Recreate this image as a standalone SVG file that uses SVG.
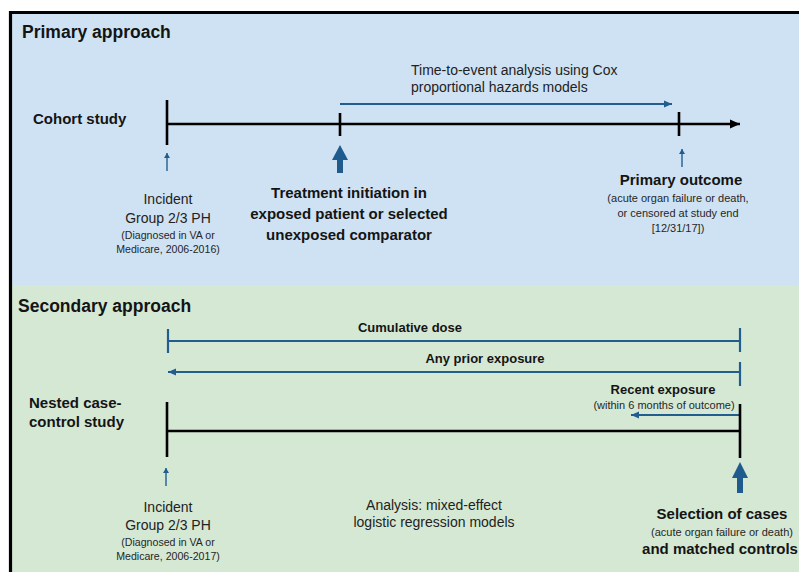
<svg xmlns="http://www.w3.org/2000/svg" width="799" height="572" viewBox="0 0 799 572">
  <style>
    text { font-family: "Liberation Sans", Arial, sans-serif; fill: #141414; }
    .h { font-size: 17.5px; font-weight: bold; }
    .b15 { font-size: 15px; font-weight: bold; }
    .b13 { font-size: 13px; font-weight: bold; }
    .r14 { font-size: 14px; fill: #222; }
    .s11 { font-size: 11px; fill: #262626; }
    .s10 { font-size: 10.6px; fill: #262626; }
    .c { text-anchor: middle; }
    .blk { stroke: #000; stroke-width: 2.6; fill: none; }
    .blu { stroke: #215d8f; stroke-width: 2.2; fill: none; }
    .thin { stroke: #215d8f; stroke-width: 1.4; fill: none; }
    .bigA { fill: #1f5b8d; }
  </style>
  <defs>
    <marker id="bh" markerUnits="userSpaceOnUse" markerWidth="9" markerHeight="8" refX="8" refY="4" orient="auto">
      <path d="M0,0.5 L8,4 L0,7.5 z" fill="#215d8f"/>
    </marker>
    <marker id="kh" markerUnits="userSpaceOnUse" markerWidth="11" markerHeight="10" refX="10" refY="5" orient="auto">
      <path d="M0,0.5 L10,5 L0,9.5 z" fill="#000"/>
    </marker>
    <marker id="sh" markerUnits="userSpaceOnUse" markerWidth="6" markerHeight="6" refX="5" refY="3" orient="auto">
      <path d="M0,0 L5,3 L0,6 z" fill="#215d8f"/>
    </marker>
  </defs>

  <rect x="0" y="0" width="799" height="572" fill="#fff"/>
  <g id="panels">
    <rect x="11" y="13" width="790" height="272" fill="#cfe2f3"/>
    <rect x="11" y="285" width="790" height="290" fill="#d5e8d4"/>
    <path d="M10.5,575 L10.5,12.5 L801,12.5" fill="none" stroke="#000" stroke-width="3.2"/>
  </g>

  <g id="connectors">
    <!-- cohort timeline -->
    <line class="blk" x1="167" y1="124" x2="740" y2="124" marker-end="url(#kh)"/>
    <line class="blk" x1="167" y1="100" x2="167" y2="145"/>
    <line class="blk" x1="340" y1="113" x2="340" y2="136"/>
    <line class="blk" x1="679" y1="112" x2="679" y2="136"/>
    <line class="blu" x1="340" y1="104" x2="672" y2="104" marker-end="url(#bh)"/>
    <line class="thin" x1="167" y1="171" x2="167" y2="153" marker-end="url(#sh)"/>
    <line class="thin" x1="682" y1="167" x2="682" y2="149" marker-end="url(#sh)"/>
    <polygon class="bigA" points="340,145 348,160 343,160 343,173 337,173 337,160 332,160"/>
    <!-- nested case-control -->
    <line class="blu" x1="168" y1="341" x2="740" y2="341"/>
    <line class="blu" x1="168" y1="329" x2="168" y2="353"/>
    <line class="blu" x1="740" y1="328" x2="740" y2="352"/>
    <line class="blu" x1="740" y1="372" x2="168" y2="372" marker-end="url(#bh)"/>
    <line class="blu" x1="740" y1="362" x2="740" y2="386"/>
    <line class="blu" x1="740" y1="415" x2="631" y2="415" marker-end="url(#bh)"/>
    <line class="blk" x1="167" y1="431" x2="740" y2="431"/>
    <line class="blk" x1="167" y1="402" x2="167" y2="457"/>
    <line class="blk" x1="740" y1="404" x2="740" y2="458"/>
    <line class="thin" x1="166" y1="486" x2="166" y2="468" marker-end="url(#sh)"/>
    <polygon class="bigA" points="740,462 748,478 743,478 743,493 737,493 737,478 732,478"/>
  </g>

  <g id="primary-title"><text class="h" x="22" y="38">Primary approach</text></g>
  <g id="cohort-label"><text class="b15" x="33" y="124">Cohort study</text></g>
  <g id="tte-label">
    <text class="r14" x="411" y="75">Time-to-event analysis using Cox</text>
    <text class="r14" x="411" y="92">proportional hazards models</text>
  </g>
  <g id="incident-top">
    <text class="r14 c" x="168" y="204">Incident</text>
    <text class="r14 c" x="168" y="223">Group 2/3 PH</text>
    <text class="s10 c" x="168" y="239">(Diagnosed in VA or</text>
    <text class="s10 c" x="168" y="253">Medicare, 2006-2016)</text>
  </g>
  <g id="treatment">
    <text class="b15 c" x="349" y="198">Treatment initiation in</text>
    <text class="b15 c" x="349" y="219">exposed patient or selected</text>
    <text class="b15 c" x="349" y="240">unexposed comparator</text>
  </g>
  <g id="primary-outcome">
    <text class="b15 c" x="681" y="185">Primary outcome</text>
    <text class="s11 c" x="678" y="202">(acute organ failure or death,</text>
    <text class="s11 c" x="678" y="217">or censored at study end</text>
    <text class="s11 c" x="678" y="232">[12/31/17])</text>
  </g>

  <g id="secondary-title"><text class="h" x="18" y="312">Secondary approach</text></g>
  <g id="cumulative"><text class="b13 c" x="410" y="332">Cumulative dose</text></g>
  <g id="any-prior"><text class="b13 c" x="485" y="363">Any prior exposure</text></g>
  <g id="recent">
    <text class="b13 c" x="663" y="394">Recent exposure</text>
    <text class="s11 c" x="664" y="409">(within 6 months of outcome)</text>
  </g>
  <g id="nested-label">
    <text class="b15" x="29" y="408">Nested case-</text>
    <text class="b15" x="29" y="427">control study</text>
  </g>
  <g id="incident-bottom">
    <text class="r14 c" x="168" y="512">Incident</text>
    <text class="r14 c" x="168" y="530">Group 2/3 PH</text>
    <text class="s10 c" x="168" y="546">(Diagnosed in VA or</text>
    <text class="s10 c" x="168" y="560">Medicare, 2006-2017)</text>
  </g>
  <g id="analysis">
    <text class="r14 c" x="434" y="510">Analysis: mixed-effect</text>
    <text class="r14 c" x="434" y="527">logistic regression models</text>
  </g>
  <g id="selection">
    <text class="b15 c" x="722" y="519">Selection of cases</text>
    <text class="s11 c" x="722" y="536">(acute organ failure or death)</text>
    <text class="b15 c" x="720" y="554">and matched controls</text>
  </g>
</svg>
